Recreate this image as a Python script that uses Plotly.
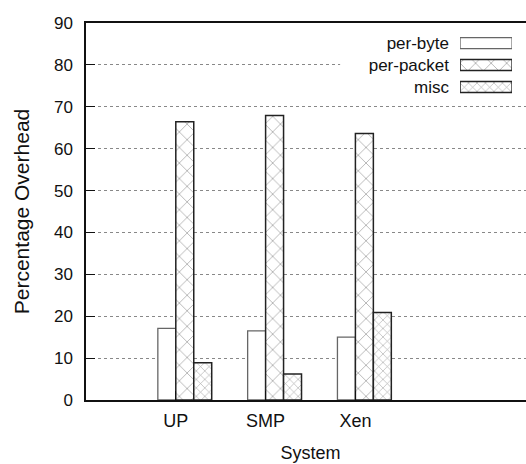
import plotly.graph_objects as go

categories = ["UP", "SMP", "Xen"]
series_names = ["per-byte", "per-packet", "misc"]
per_byte = [17.1, 16.5, 15.0]
per_packet = [66.4, 67.9, 63.6]
misc = [8.9, 6.2, 20.9]
y_ticks = [0, 10, 20, 30, 40, 50, 60, 70, 80, 90]

FONT = "Liberation Sans Narrow, Arial Narrow, Liberation Sans, Arial, sans-serif"
positions = list(range(1, len(categories) + 1))

styles = {
    "per-byte": dict(color="white", line=dict(color="#666", width=1.3), pattern=dict(shape="")),
    "per-packet": dict(color="white", line=dict(color="#222", width=1.5),
                       pattern=dict(shape="x", size=11, solidity=0.12, fgcolor="#333")),
    "misc": dict(color="white", line=dict(color="#222", width=1.5),
                 pattern=dict(shape="x", size=6, solidity=0.2, fgcolor="#555")),
}
offsets = {"per-byte": -0.2, "per-packet": 0.0, "misc": 0.2}

fig = go.Figure()
for name, vals in zip(series_names, [per_byte, per_packet, misc]):
    fig.add_trace(go.Bar(
        x=positions, y=vals, width=0.2, offset=offsets[name],
        marker=styles[name], name=name, showlegend=False,
    ))
    # legend swatch on a small overlay axis
    fig.add_trace(go.Bar(
        x=[1], y=[name], orientation="h", width=0.5,
        marker=styles[name], xaxis="x2", yaxis="y2", showlegend=False,
        hoverinfo="skip",
    ))

# white legend background (between gridlines and traces)
fig.add_shape(type="rect", xref="x", yref="y",
              x0=2.83, x1=4.93, y0=72.1, y1=88.8,
              fillcolor="white", line=dict(width=0), layer="between")

fig.update_layout(
    width=535, height=464,
    margin=dict(l=86, r=0, t=23, b=64),
    paper_bgcolor="white", plot_bgcolor="white",
    font=dict(family=FONT, size=17, color="#111"),
    barmode="overlay",
    xaxis=dict(
        range=[0, 5], tickvals=positions, ticktext=categories,
        showgrid=False, zeroline=False, automargin=False,
        showline=True, linecolor="#111", linewidth=1.5, mirror=True,
        ticks="inside", ticklen=9, tickcolor="#111",
        ticklabelstandoff=4,
        tickfont=dict(size=18),
        title=dict(text="System", font=dict(size=18), standoff=16),
    ),
    yaxis=dict(
        range=[0, 90], tickvals=y_ticks,
        showgrid=True, gridcolor="#888", griddash="dot", gridwidth=1,
        zeroline=False, automargin=False, mirror=False,
        showline=True, linecolor="#111", linewidth=1.5,
        ticks="inside", ticklen=9, tickcolor="#111",
        ticklabelstandoff=8,
        tickfont=dict(size=17),
        title=dict(text="Percentage Overhead", font=dict(size=21), standoff=19),
    ),
    xaxis2=dict(domain=[0.833, 0.949], range=[0, 1], anchor="y2",
                visible=False, fixedrange=True),
    yaxis2=dict(domain=[0.801, 0.976], anchor="x2", autorange="reversed",
                categoryorder="array", categoryarray=series_names, automargin=False,
                showgrid=False, zeroline=False, showline=False, ticks="",
                ticklabelstandoff=10, tickfont=dict(size=17), fixedrange=True),
)

fig.write_html("out.html",
               config={"displayModeBar": False},
               post_script="document.body.style.margin='0';document.body.style.overflow='hidden';")
